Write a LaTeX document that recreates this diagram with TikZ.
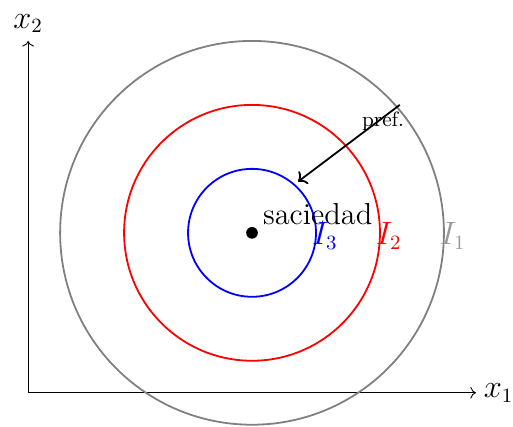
\documentclass[tikz,border=0pt]{standalone}
\usepackage{tikz}
\usetikzlibrary{arrows.meta, positioning, calc}
\usepackage{xcolor}

\begin{document}
\begin{tikzpicture}[
  font=\fontsize{13.5}{16}\selectfont,
  axis/.style={->},
  curva/.style={thick},
  lab/.style={inner sep=1pt},
  arr/.style={->, thick}
]
\useasboundingbox (-0.44,-0.53) rectangle (7.58,6.14);
% ejes
\coordinate (O) at (0,0);
\coordinate (xe) at (7,0);
\coordinate (ye) at (0,5.5);
\draw[axis] (O) -- (xe) node[right] {$x_1$};
\draw[axis] (O) -- (ye) node[above] {$x_2$};
% curvas de indiferencia
\coordinate (s) at (3.5,2.5);
\draw[curva, gray] (s) circle (3);
\draw[curva, red] (s) circle (2);
\draw[curva, blue] (s) circle (1);
\node[lab, gray!80] (i1) at (6.64,2.45) {$I_1$};
\node[lab, red] (i2) at (5.64,2.45) {$I_2$};
\node[lab, blue] (i3) at (4.64,2.45) {$I_3$};
% punto de saciedad
\fill (s) circle (2.6pt);
\node[above right=0.0cm and 0.05cm] (sac) at (s) {saciedad};
% direccion de preferencia
\coordinate (p0) at (5.81,4.5);
\coordinate (p1) at (4.22,3.3);
\draw[arr] (p0) -- (p1);
\node[font=\fontsize{9.2}{11}\selectfont] (pref) at (5.55,4.24) {pref.};
\end{tikzpicture}
\end{document}
